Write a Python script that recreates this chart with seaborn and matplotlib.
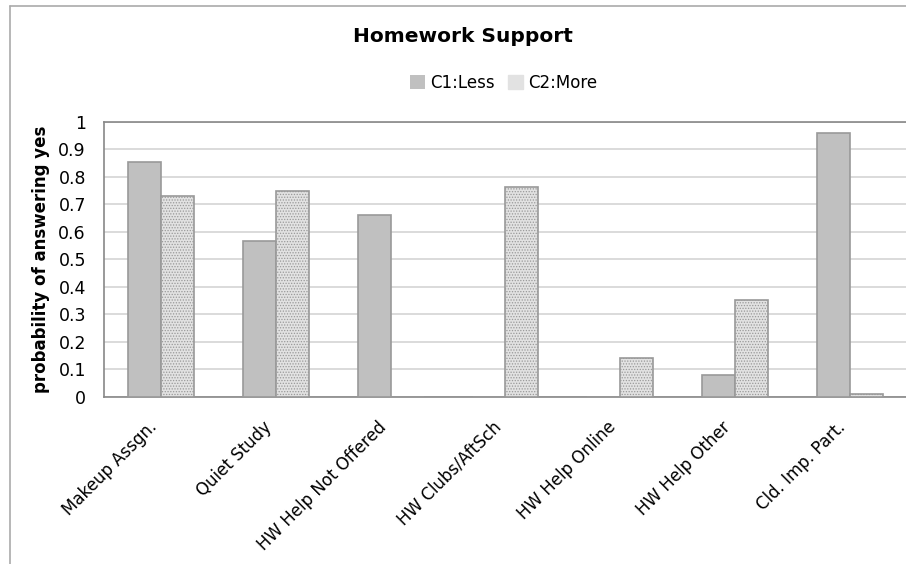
import matplotlib
matplotlib.use("Agg")
import matplotlib.pyplot as plt
from matplotlib.lines import Line2D
from matplotlib.patches import Patch
import pandas as pd
import seaborn as sns

categories = ["Makeup Assgn.", "Quiet Study", "HW Help Not Offered", "HW Clubs/AftSch",
              "HW Help Online", "HW Help Other", "Cld. Imp. Part."]
c1_less = [0.855, 0.568, 0.661, 0.0, 0.0, 0.080, 0.958]
c2_more = [0.731, 0.749, 0.0, 0.764, 0.141, 0.351, 0.012]
series = ["C1:Less", "C2:More"]
y_ticks = [0, 0.1, 0.2, 0.3, 0.4, 0.5, 0.6, 0.7, 0.8, 0.9, 1]
y_tick_labels = ["0", "0.1", "0.2", "0.3", "0.4", "0.5", "0.6", "0.7", "0.8", "0.9", "1"]

df = pd.DataFrame({
    "category": categories * 2,
    "group": [series[0]] * len(categories) + [series[1]] * len(categories),
    "value": c1_less + c2_more,
})

sns.set_theme(style="white")
plt.rcParams["font.family"] = ["DejaVu Sans"]
plt.rcParams["text.color"] = "black"
plt.rcParams["axes.labelcolor"] = "black"
plt.rcParams["xtick.color"] = "black"
plt.rcParams["ytick.color"] = "black"
plt.rcParams["hatch.color"] = "#b4b4b4"
plt.rcParams["hatch.linewidth"] = 0.6

W, H = 906, 564
fig = plt.figure(figsize=(W / 100, H / 100), dpi=100)
ax = fig.add_axes([104 / W, 1 - 397 / H, (907 - 104) / W, (397 - 121.7) / H])

face_colors = {"C1:Less": "#c0c0c0", "C2:More": "#e2e2e2"}
sns.barplot(data=df, x="category", y="value", hue="group", order=categories,
            hue_order=series, palette=face_colors, width=0.574, gap=0,
            edgecolor="#999999", linewidth=1.2, saturation=1, ax=ax, legend=False,
            zorder=3)

# stippled fill for the second series
for bar in ax.containers[1]:
    bar.set_hatch("......")

ax.set_ylim(0, 1)
ax.set_xlim(-0.5, len(categories) - 0.5)
ax.set_yticks(y_ticks)
ax.set_yticklabels(y_tick_labels, fontsize=12.5)
ax.yaxis.grid(True, color="#d4d4d4", linewidth=1.2, zorder=0)
ax.set_axisbelow(True)

# category ticks sit on group boundaries; slanted names end just left of each group centre
label_nudge = 0.12
ax.set_xticks([i - 0.5 for i in range(len(categories))], minor=False)
ax.set_xticklabels([])
ax.set_xticks([i - label_nudge for i in range(len(categories))], minor=True)
ax.set_xticklabels(categories, minor=True, rotation=45, ha="right",
                   rotation_mode="anchor", fontsize=12)
ax.tick_params(axis="x", which="minor", length=0, pad=15)
ax.tick_params(axis="x", which="major", length=5, width=1, color="#888888", direction="out")
ax.tick_params(axis="y", length=5, width=1, color="#888888", direction="out", pad=8)
ax.tick_params(axis="both", which="both", labelcolor="black")

for side in ["left", "bottom", "top"]:
    ax.spines[side].set_visible(True)
    ax.spines[side].set_color("#888888")
    ax.spines[side].set_linewidth(1.2)
ax.spines["right"].set_visible(False)

ax.set_xlabel("")
ax.set_ylabel("probability of answering yes", fontsize=12, fontweight="bold",
              labelpad=6, color="black")

fig.text(463 / W, 1 - 37 / H, "Homework Support", ha="center", va="center",
         fontsize=14.5, fontweight="bold", color="black")

handles = [Patch(facecolor=face_colors[s], edgecolor="none") for s in series]
handles[1].set_hatch("......")
handles[1].set_edgecolor("#e2e2e2")
fig.legend(handles, series, loc="center", bbox_to_anchor=(504 / W, 1 - 83 / H),
           ncol=2, frameon=False, fontsize=12, handlelength=0.9, handleheight=0.9,
           handletextpad=0.3, columnspacing=0.8, labelcolor="black")

# outer chart frame
fig.add_artist(Line2D([9.5 / W, 9.5 / W], [0, 1 - 5.5 / H], color="#aaaaaa", linewidth=1.2))
fig.add_artist(Line2D([9.5 / W, 1], [1 - 5.5 / H, 1 - 5.5 / H], color="#aaaaaa", linewidth=1.2))

fig.savefig("out.png", dpi=100, facecolor="white")
